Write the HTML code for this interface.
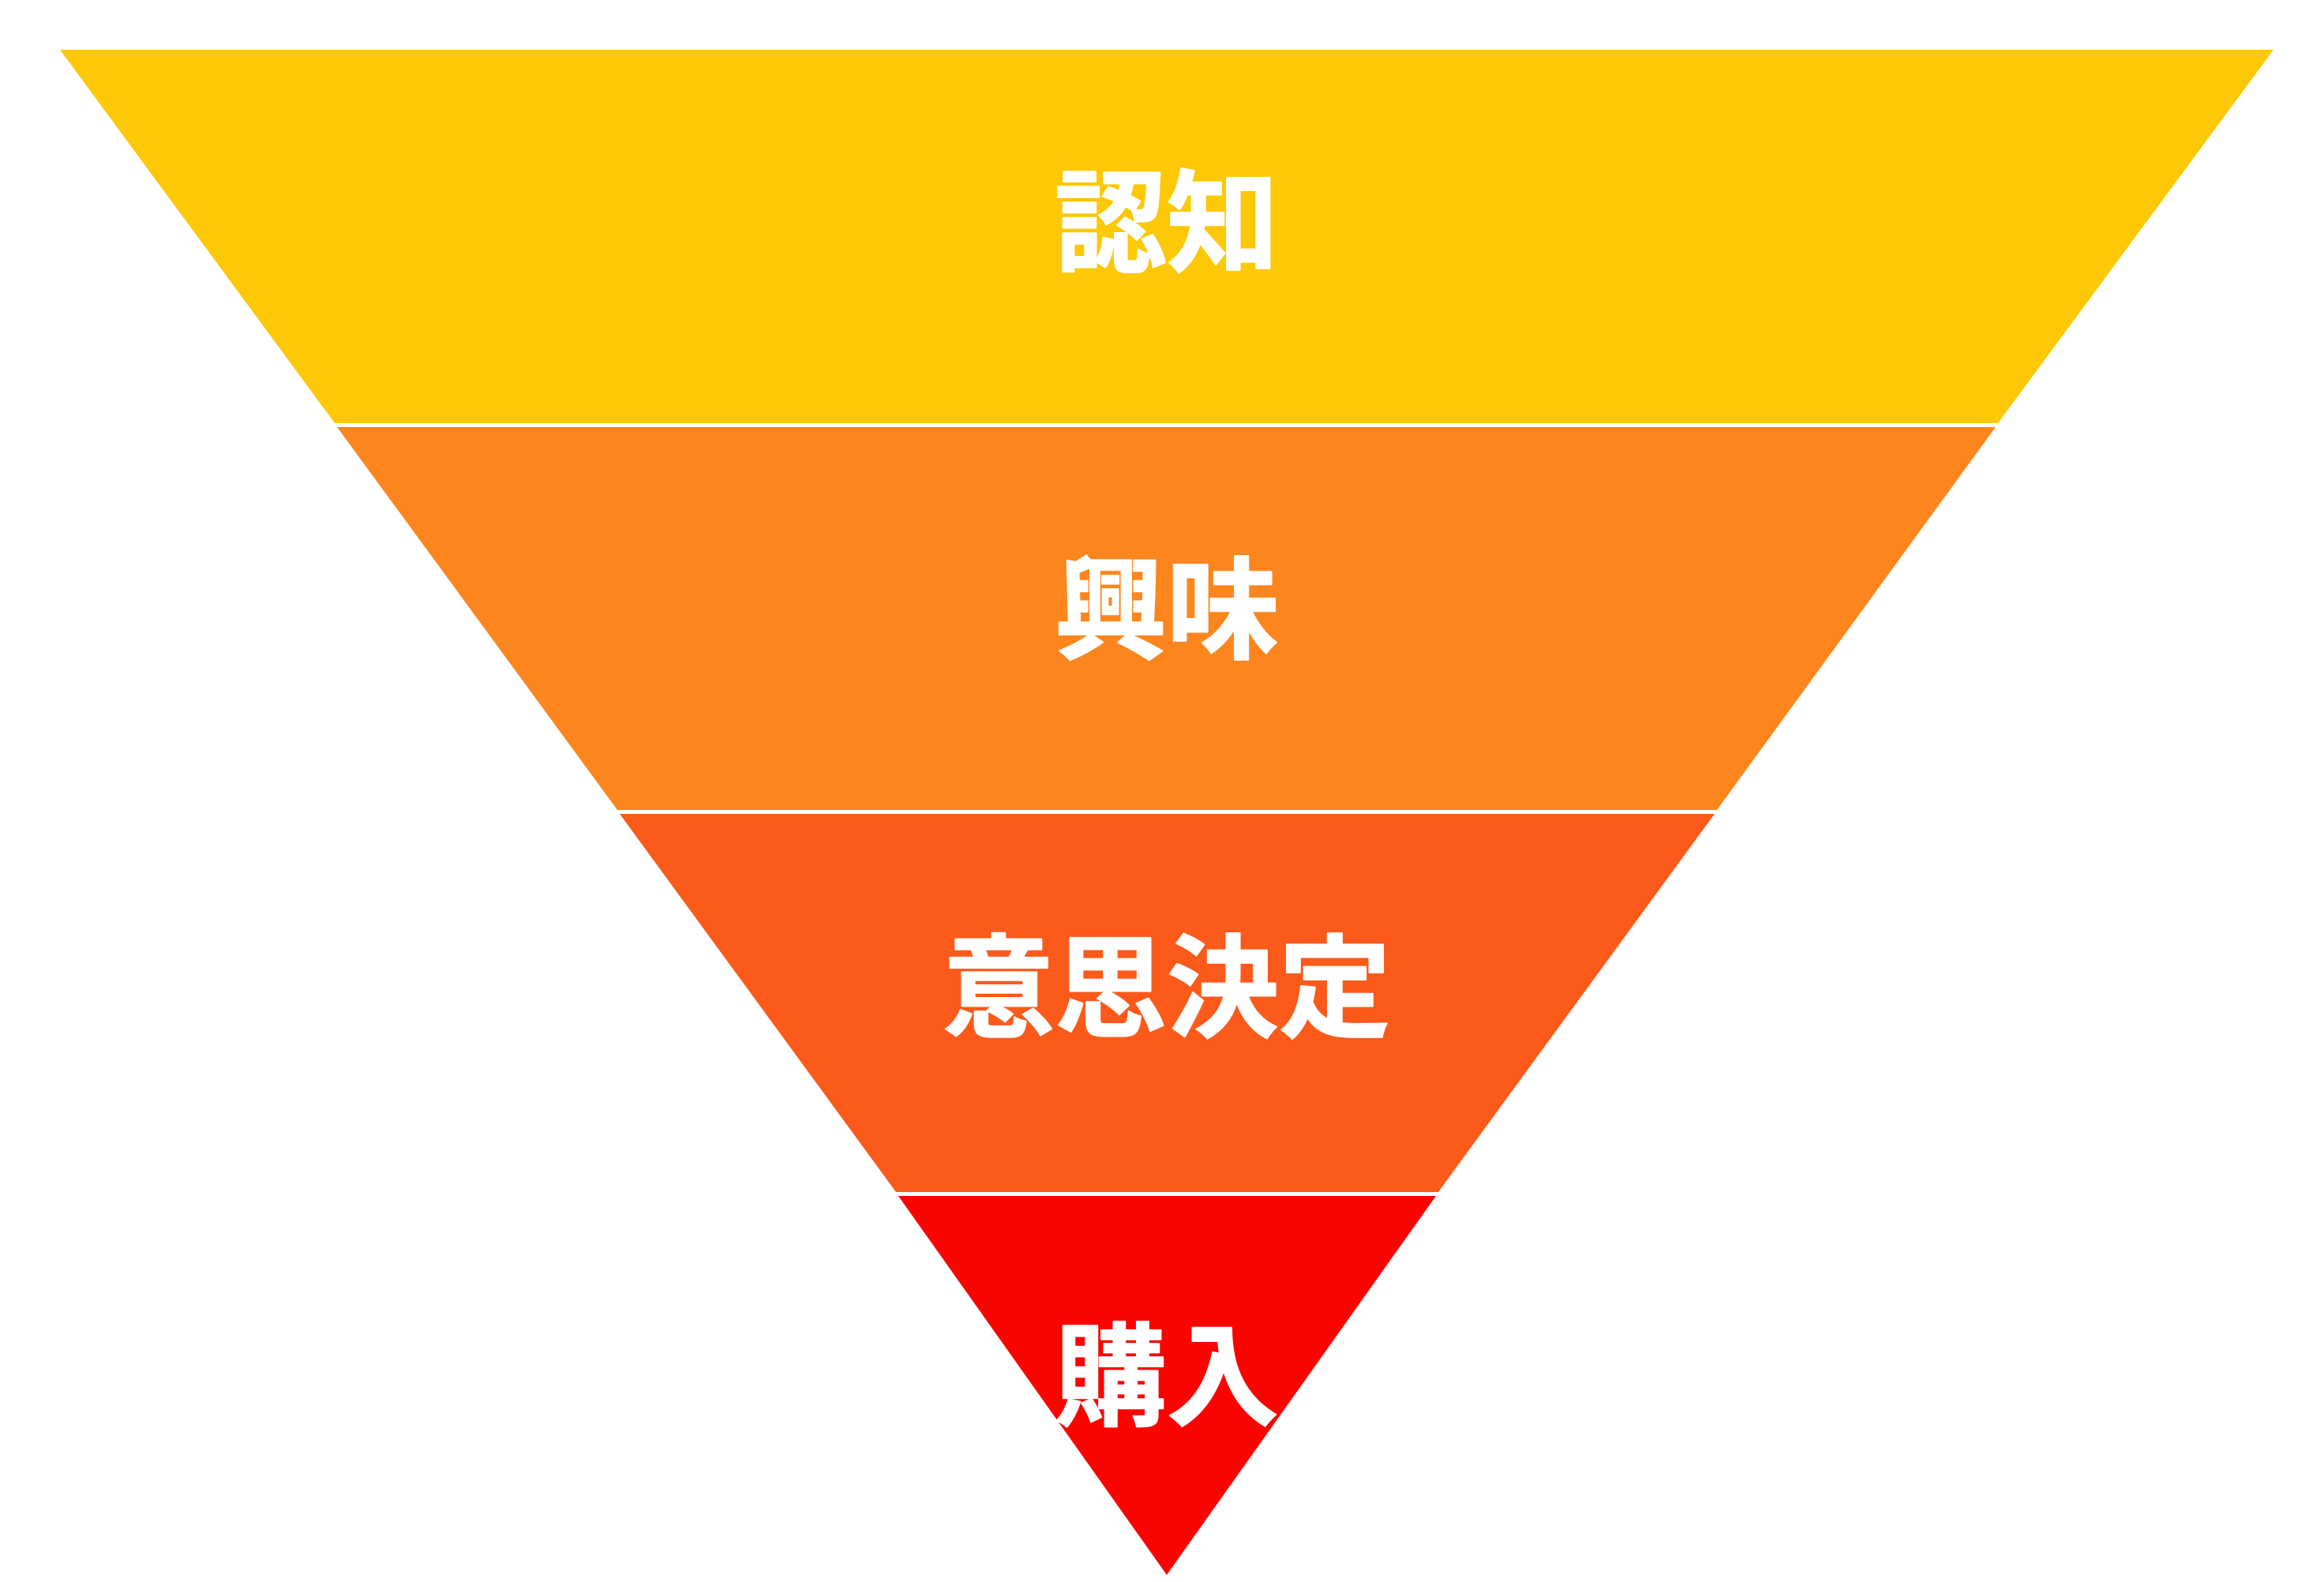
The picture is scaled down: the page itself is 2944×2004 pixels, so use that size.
<!DOCTYPE html>
<html><head><meta charset="utf-8">
<style>
html,body{margin:0;padding:0;background:#fff;}
svg{display:block;}
text{font-family:"Liberation Sans","Noto Sans CJK JP",sans-serif;font-weight:bold;fill:#fff;stroke:#fff;stroke-width:2;stroke-linejoin:round;}
</style></head>
<body>
<svg width="2944" height="2004" viewBox="0 0 2944 2004" xmlns="http://www.w3.org/2000/svg">
<polygon points="76,63 2880,63 2531,536 424,536" fill="#FDC805"/>
<polygon points="427,541 2528,541 2175,1026 782,1026" fill="#FC861D"/>
<polygon points="785,1031 2172,1031 1822,1510 1135,1510" fill="#FC5A1A"/>
<polygon points="1138,1515 1819,1515 1478,1995" fill="#FB0400"/>
<text x="1478" y="285" font-size="142" text-anchor="middle" dominant-baseline="central">認知</text>
<text x="1478" y="775" font-size="142" text-anchor="middle" dominant-baseline="central">興味</text>
<text x="1478" y="1254" font-size="142" text-anchor="middle" dominant-baseline="central">意思決定</text>
<text x="1478" y="1746" font-size="142" text-anchor="middle" dominant-baseline="central">購入</text>
</svg>
</body></html>
